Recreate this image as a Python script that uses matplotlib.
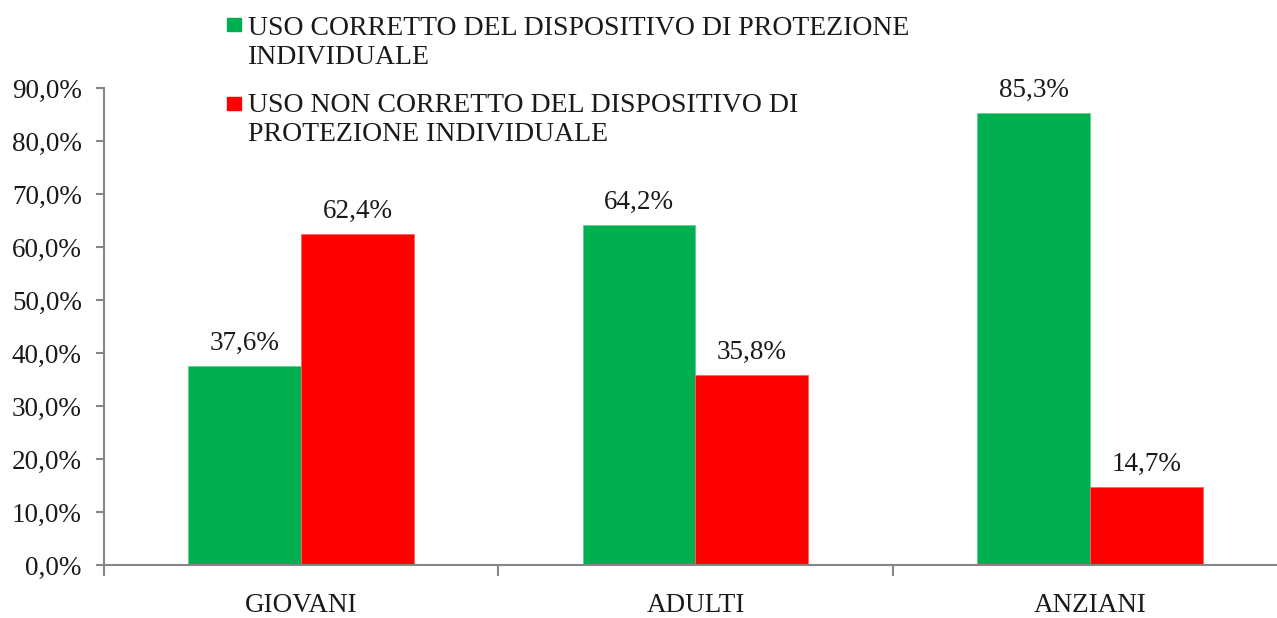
import matplotlib
matplotlib.use("Agg")
import matplotlib.pyplot as plt
from matplotlib.patches import Rectangle
from matplotlib.ticker import FixedLocator, FuncFormatter
import numpy as np

plt.rcParams['font.family'] = ['Liberation Serif', 'DejaVu Serif']

# data
categories = ["GIOVANI", "ADULTI", "ANZIANI"]
corretto = [37.6, 64.2, 85.3]
non_corretto = [62.4, 35.8, 14.7]
series_labels = ["USO CORRETTO DEL DISPOSITIVO DI PROTEZIONE\nINDIVIDUALE",
                 "USO NON CORRETTO DEL DISPOSITIVO DI\nPROTEZIONE INDIVIDUALE"]
colors = ["#00B050", "#FF0000"]

W, H = 1277, 618
fig = plt.figure(figsize=(W / 100, H / 100), dpi=100)
ax = fig.add_axes([104 / W, 53 / H, 1183 / W, 477 / H])

x = np.arange(len(categories))
bw = 0.286
bars1 = ax.bar(x - bw / 2, corretto, bw, color=colors[0], edgecolor="#5fd08f", linewidth=0.6)
bars2 = ax.bar(x + bw / 2, non_corretto, bw, color=colors[1], edgecolor="#ff6060", linewidth=0.6)

for bars in (bars1, bars2):
    for b in bars:
        v = b.get_height()
        ax.annotate(f"{v:.1f}%".replace(".", ","), (b.get_x() + b.get_width() / 2, v),
                    xytext=(0, 16), textcoords="offset pixels", ha="center", va="baseline",
                    fontsize=19.5, color="#1a1a1a")

ax.set_xlim(-0.5, 2.5)
ax.set_ylim(0, 90)
ax.set_yticks(np.arange(0, 91, 10))
ax.yaxis.set_major_formatter(FuncFormatter(lambda v, p: f"{v:.1f}%".replace(".", ",")))
ax.set_xticks(x)
ax.set_xticklabels(categories)
ax.xaxis.set_minor_locator(FixedLocator([-0.5, 0.5, 1.5, 2.5]))

for s in ["top", "right"]:
    ax.spines[s].set_visible(False)
for s in ["left", "bottom"]:
    ax.spines[s].set_color("#868686")
    ax.spines[s].set_linewidth(1.5)

ax.tick_params(axis="y", direction="out", length=6, width=1.5, color="#868686",
               labelsize=19.5, labelcolor="#1a1a1a", pad=10)
ax.tick_params(axis="x", which="major", length=0, labelsize=19.5, labelcolor="#1a1a1a", pad=20)
ax.tick_params(axis="x", which="minor", direction="out", length=8, width=1.5, color="#868686")

# legend drawn by hand (square next to first line)
sq_y = [18, 97]
base_y = [35, 112]
for i, lab in enumerate(series_labels):
    fig.patches.append(Rectangle((227 / W, 1 - (sq_y[i] + 13) / H), 14 / W, 13 / H,
                                 transform=fig.transFigure, color=colors[i]))
    for j, line in enumerate(lab.split("\n")):
        fig.text(248 / W, 1 - (base_y[i] + j * 29) / H, line, fontsize=20,
                 va="baseline", ha="left", color="#1a1a1a")

fig.savefig("out.png", dpi=100)
